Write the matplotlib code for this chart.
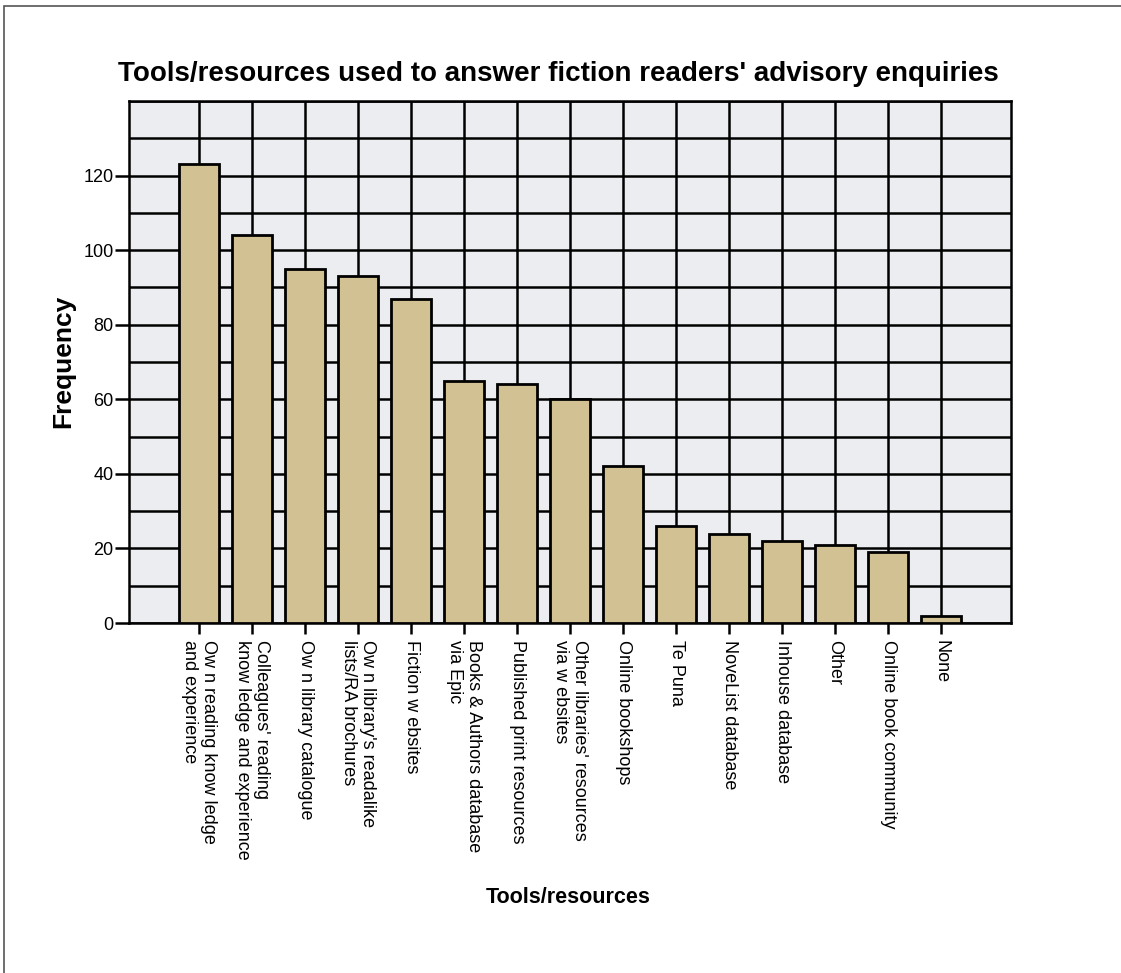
import matplotlib
matplotlib.use("Agg")
import matplotlib.pyplot as plt
from matplotlib.patches import Rectangle
from matplotlib.ticker import MultipleLocator

# categories as printed under the bars (SPSS spacing kept)
categories = [
    "Ow n reading know ledge\nand experience",
    "Colleagues' reading\nknow ledge and experience",
    "Ow n library catalogue",
    "Ow n library's readalike\nlists/RA brochures",
    "Fiction w ebsites",
    "Books & Authors database\nvia Epic",
    "Published print resources",
    "Other libraries' resources\nvia w ebsites",
    "Online bookshops",
    "Te Puna",
    "NoveList database",
    "Inhouse database",
    "Other",
    "Online book community",
    "None",
]
frequency = [123, 104, 95, 93, 87, 65, 64, 60, 42, 26, 24, 22, 21, 19, 2]
y_ticks = [0, 20, 40, 60, 80, 100, 120]

plt.rcParams['font.family'] = ['Liberation Sans', 'DejaVu Sans']

fig = plt.figure(figsize=(11.21, 9.73), dpi=100)
fig.patch.set_facecolor('white')
ax = fig.add_axes([0.1151, 0.3597, 0.7868, 0.5365])
ax.set_facecolor('#ECEDF0')

x = list(range(len(categories)))
ax.set_xlim(-1.32, len(categories) - 1 + 1.32)
ax.set_ylim(0, 140)

# grid: horizontal every 10, vertical through each category
ax.yaxis.set_minor_locator(MultipleLocator(10))
ax.set_yticks(y_ticks)
ax.grid(True, which='both', axis='y', color='black', linewidth=1.8)
ax.grid(True, axis='x', color='black', linewidth=1.8)
ax.set_axisbelow(True)

ax.bar(x, frequency, width=0.74, color='#D2C293', edgecolor='black', linewidth=2, zorder=3)

ax.set_xticks(x)
ax.set_xticklabels(categories, rotation=270, ha='center', va='top',
                   multialignment='left', fontsize=13, linespacing=1.1)
ax.tick_params(axis='y', which='major', length=10, width=1.8, labelsize=13, pad=1)
ax.tick_params(axis='y', which='minor', length=0)
ax.tick_params(axis='x', length=8, width=1.8, pad=4)

for s in ax.spines.values():
    s.set_linewidth(1.8)

fig.text(0.498, 0.924,
         "Tools/resources used to answer fiction readers' advisory enquiries",
         fontsize=20, fontweight='bold', ha='center', va='center')
ax.set_ylabel("Frequency", fontsize=19, fontweight='bold')
ax.yaxis.set_label_coords(-0.061, 0.502)
fig.text(0.507, 0.078, "Tools/resources", fontsize=15.5, fontweight='bold',
         ha='center', va='center')

# outer frame of the exported chart
fig.patches.append(Rectangle((4 / 1121, -0.05), 1.2, 1 - 6 / 973 + 0.05,
                             transform=fig.transFigure, fill=False,
                             edgecolor='#555555', linewidth=1.2))

fig.savefig("out.png", dpi=100, facecolor='white')
